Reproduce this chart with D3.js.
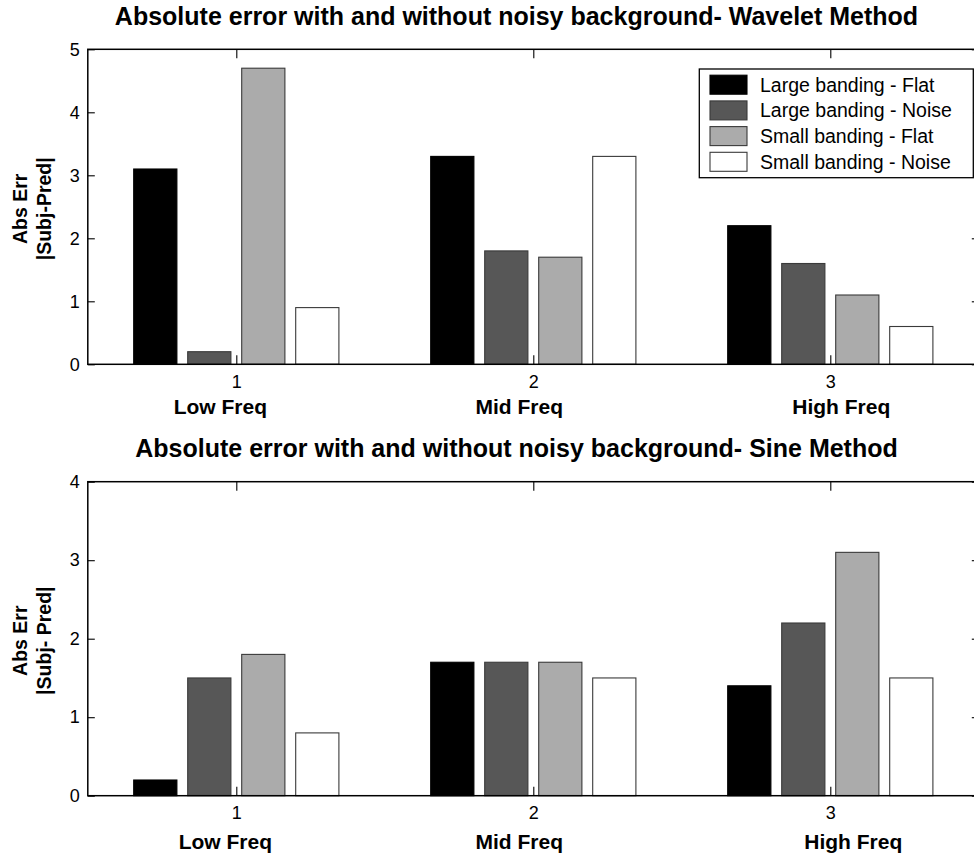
<!DOCTYPE html>
<html>
<head>
<meta charset="utf-8">
<script src="https://cdn.jsdelivr.net/npm/d3@7"></script>
<style>
  html, body { margin: 0; padding: 0; background: #fff; }
  svg { display: block; }
</style>
</head>
<body>
<script>
// ---------------- data ----------------
const categories = [1, 2, 3];
const categoryLabels = ["Low Freq", "Mid Freq", "High Freq"];
const seriesNames = ["Large banding - Flat", "Large banding - Noise", "Small banding - Flat", "Small banding - Noise"];
const seriesColors = ["#000000", "#575757", "#ababab", "#ffffff"];

const waveletLargeFlat  = [3.1, 3.3, 2.2];
const waveletLargeNoise = [0.2, 1.8, 1.6];
const waveletSmallFlat  = [4.7, 1.7, 1.1];
const waveletSmallNoise = [0.9, 3.3, 0.6];

const sineLargeFlat  = [0.2, 1.7, 1.4];
const sineLargeNoise = [1.5, 1.7, 2.2];
const sineSmallFlat  = [1.8, 1.7, 3.1];
const sineSmallNoise = [0.8, 1.5, 1.5];

const waveletTicks = [0, 1, 2, 3, 4, 5];
const sineTicks = [0, 1, 2, 3, 4];

const waveletTitle = "Absolute error with and without noisy background- Wavelet Method";
const sineTitle = "Absolute error with and without noisy background- Sine Method";
const waveletYLabel = ["Abs Err", "|Subj-Pred|"];
const sineYLabel = ["Abs Err", "|Subj- Pred|"];

// ---------------- layout ----------------
const W = 974, H = 858;
const FONT = "'Liberation Sans', Arial, Helvetica, sans-serif";
const svg = d3.select("body").append("svg").attr("width", W).attr("height", H);

const panels = [
  { title: waveletTitle, ylabel: waveletYLabel, ticks: waveletTicks, ymax: 5,
    series: [waveletLargeFlat, waveletLargeNoise, waveletSmallFlat, waveletSmallNoise],
    top: 49.3, bottom: 364.3, legend: true,
    xLabelDy: 50, xLabelDx: [-16, -14, 11] },
  { title: sineTitle, ylabel: sineYLabel, ticks: sineTicks, ymax: 4,
    series: [sineLargeFlat, sineLargeNoise, sineSmallFlat, sineSmallNoise],
    top: 481.7, bottom: 795.7, legend: false,
    xLabelDy: 53.6, xLabelDx: [-11, -14, 23] }
];

const left = 87.8, right = 978.8;
const x = d3.scaleLinear().domain([0.5, 3.5]).range([left, right]);
const groupWidth = 4 / 5.5; // in x units

panels.forEach(p => {
  const g = svg.append("g");
  const y = d3.scaleLinear().domain([0, p.ymax]).range([p.bottom, p.top]);

  // bars
  p.series.forEach((vals, si) => {
    vals.forEach((v, ci) => {
      const c = categories[ci];
      const band = d3.scaleBand()
        .domain(d3.range(seriesNames.length))
        .range([x(c - groupWidth / 2), x(c + groupWidth / 2)])
        .paddingInner(0.2).paddingOuter(0.1);
      g.append("rect")
        .attr("x", band(si))
        .attr("y", y(v))
        .attr("width", band.bandwidth())
        .attr("height", y(0) - y(v))
        .attr("fill", seriesColors[si])
        .attr("stroke", si === 0 ? "#000" : "#3a3a3a")
        .attr("stroke-width", 1.1);
    });
  });

  // box
  g.append("rect")
    .attr("x", left).attr("y", p.top)
    .attr("width", right - left).attr("height", p.bottom - p.top)
    .attr("fill", "none").attr("stroke", "#000").attr("stroke-width", 1.5);

  const styleAxis = (ax, size) => {
    ax.select(".domain").remove();
    ax.selectAll("line").attr("stroke", "#000").attr("stroke-width", 1.1);
    ax.selectAll("text").attr("font-family", FONT).attr("font-size", size).attr("fill", "#000");
  };

  // left axis
  const ayL = g.append("g").attr("transform", `translate(${left},0)`)
    .call(d3.axisLeft(y).tickValues(p.ticks).tickFormat(d3.format("d"))
      .tickSizeInner(-7).tickSizeOuter(0).tickPadding(8));
  styleAxis(ayL, 18);
  // right axis (ticks only)
  const ayR = g.append("g").attr("transform", `translate(${right},0)`)
    .call(d3.axisRight(y).tickValues(p.ticks).tickFormat("")
      .tickSizeInner(-7).tickSizeOuter(0));
  styleAxis(ayR, 18);
  // bottom axis
  const axB = g.append("g").attr("transform", `translate(0,${p.bottom})`)
    .call(d3.axisBottom(x).tickValues(categories).tickFormat(d3.format("d"))
      .tickSizeInner(-9).tickSizeOuter(0).tickPadding(11));
  styleAxis(axB, 18);
  // top axis (ticks only)
  const axT = g.append("g").attr("transform", `translate(0,${p.top})`)
    .call(d3.axisTop(x).tickValues(categories).tickFormat("")
      .tickSizeInner(-9).tickSizeOuter(0));
  styleAxis(axT, 18);

  // category labels
  categories.forEach((c, i) => {
    g.append("text")
      .attr("x", x(c) + p.xLabelDx[i])
      .attr("y", p.bottom + p.xLabelDy)
      .attr("text-anchor", "middle")
      .attr("font-family", FONT).attr("font-weight", "bold").attr("font-size", 21)
      .text(categoryLabels[i]);
  });

  // title
  g.append("text")
    .attr("x", 516.5).attr("y", p.top - 24.3)
    .attr("text-anchor", "middle")
    .attr("font-family", FONT).attr("font-weight", "bold").attr("font-size", 25)
    .text(p.title);

  // y label (two lines, rotated)
  const cy = (p.top + p.bottom) / 2 + 2;
  const yl = g.append("text")
    .attr("transform", `translate(26.5,${cy}) rotate(-90)`)
    .attr("text-anchor", "middle")
    .attr("font-family", FONT).attr("font-weight", "bold").attr("font-size", 19.5);
  yl.append("tspan").attr("x", 0).attr("y", 0).text(p.ylabel[0]);
  yl.append("tspan").attr("x", 0).attr("y", 24).text(p.ylabel[1]);

  // legend
  if (p.legend) {
    const lg = g.append("g");
    lg.append("rect")
      .attr("x", 699.3).attr("y", 69)
      .attr("width", 973.3 - 699.3).attr("height", 177.7 - 69)
      .attr("fill", "#fff").attr("stroke", "#000").attr("stroke-width", 1.3);
    seriesNames.forEach((name, i) => {
      const cyRow = 84.7 + i * 25.7;
      lg.append("rect")
        .attr("x", 710).attr("y", cyRow - 9.5)
        .attr("width", 37).attr("height", 19)
        .attr("fill", seriesColors[i])
        .attr("stroke", i === 0 ? "#000" : "#3a3a3a").attr("stroke-width", 1.1);
      lg.append("text")
        .attr("x", 760).attr("y", cyRow + 6.8)
        .attr("font-family", FONT).attr("font-size", 19.5)
        .text(name);
    });
  }
});
</script>
</body>
</html>
